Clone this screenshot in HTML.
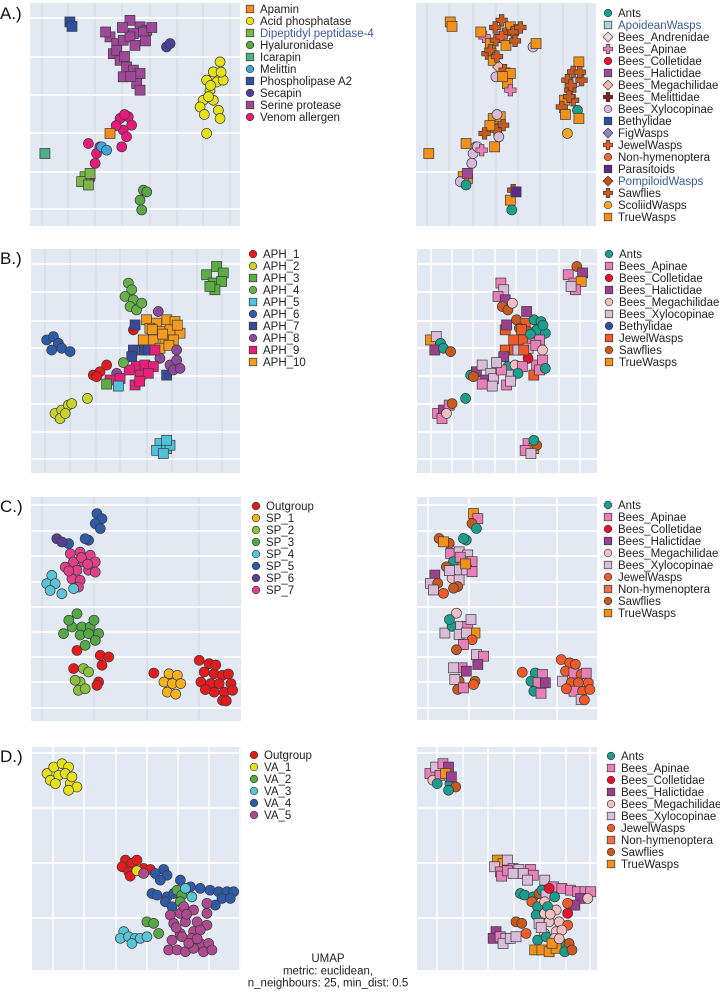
<!DOCTYPE html>
<html><head><meta charset="utf-8"><style>
html,body{margin:0;padding:0;background:#fff;}
svg text{font-family:"Liberation Sans",sans-serif;}
</style></head><body>
<svg id="fig" xmlns="http://www.w3.org/2000/svg" width="720" height="992" viewBox="0 0 720 992"></svg>
<script>
// ---------- Row A data: [x, y(top-down), leftCat, rightCat] in 0-100 units ----------
const pointsA = [
[19,8.5,6,17],[20,10.5,6,17],
[47.6,7.8,8,15],[52.4,10.7,8,17],[55.6,12.2,8,15],[49.2,13.7,8,15],[38.1,15.2,8,3],[41.3,18.2,8,17],[44.4,16.7,8,15],[39.7,22.7,8,15],[42.9,25.7,8,17],[46,28.7,8,6],[49.2,30.1,8,15],[52.4,31.6,8,17],[44.4,33.1,8,8],[50.8,36.1,8,17],[52.4,39.1,8,3],[54,13,8,15],[41.3,21.2,8,15],[47.6,15.2,8,11],
[44,11,8,15],[50,19,8,17],[45,24,8,15],[48,33,8,17],[55,17,8,15],[58,11,8,15],[36,13,8,17],
[65,19.7,7,8],[66.7,18.2,7,17],
[90.5,26.4,1,17],[87.3,30.9,1,15],[84.1,34.6,1,15],[88.9,35.4,1,8],[92,34.6,1,15],[85.7,39.1,1,15],[82.5,43.6,1,17],[81,46.6,1,15],[87.3,43.6,1,15],[89.7,48.1,1,0],[90.5,51.8,1,17],[84.1,58.5,1,16],
[86,37,1,15],[83,50,1,17],[91,31,1,15],[85,42,1,15],
[42.9,51.8,9,17],[46.8,51,9,17],[48.4,54.8,9,15],[44.4,57,9,15],[46,60,9,8],[43.7,64.5,9,17],[33.3,64.5,9,8],[27.8,63,9,17],[31.7,67.5,9,8],[31,71.9,9,8],[28.6,78.7,9,17],
[41,55,9,17],[45,50,9,8],
[38.1,58.5,0,15],[34.1,64.5,5,8],[36.5,66,5,3],
[7.1,67.5,4,17],
[26.2,77.9,2,17],[24.6,80.1,2,8],[27.8,81.6,2,0],[28.6,76.4,2,5],
[54,83.9,3,15],[52.4,88.4,3,17],[53.2,92.8,3,0],[55.6,84.7,3,13]
];
const leftCatsA = ["Apamin","Acid phosphatase","Dipeptidyl peptidase-4","Hyaluronidase","Icarapin","Melittin","Phospholipase A2","Secapin","Serine protease","Venom allergen"];
const leftColA = ["#f28c1e","#e6e21a","#7ab648","#5aa845","#4caf8a","#3ba7d8","#2e4fa0","#4b3f9a","#a0479a","#e8197a"];
const leftShpA = ["s","c","s","c","s","c","s","c","s","c"];
const rightCatsA = ["Ants","ApoideanWasps","Bees_Andrenidae","Bees_Apinae","Bees_Colletidae","Bees_Halictidae","Bees_Megachilidae","Bees_Melittidae","Bees_Xylocopinae","Bethylidae","FigWasps","JewelWasps","Non-hymenoptera","Parasitoids","PompiloidWasps","Sawflies","ScoliidWasps","TrueWasps"];
const rightColA = ["#1a9e8f","#a8d5d5","#f0dada","#e87fb8","#e8102a","#a0479a","#f2b8b0","#8b1a1a","#d8b8dc","#2b4fa0","#8e86c4","#f05a28","#e8683c","#5b2a86","#c4501a","#c85a1e","#f5a623","#f39019"];
const rightShpA = ["c","s","d","x","c","s","d","x","c","s","d","x","c","s","d","x","c","s"];

// ---------- Row B ----------
const pointsB = [
[84,11.5,2,1],[88.8,7.8,2,8],[92,10.7,2,3],[87.2,15.2,2,1],[91.2,14.5,2,9],[88,18.2,2,1],[85.6,16.7,2,5],
[46.6,15.2,3,1],[48.2,18.2,3,5],[45,21.2,3,1],[49,22.7,3,3],[47.4,25.7,3,8],[50.5,27.2,3,8],[53,24.2,3,4],
[7.5,40.6,5,9],[10.7,39.1,5,5],[13.1,42.1,5,0],[9.9,45.1,5,3],[14.7,44.3,5,0],[18.7,45.8,5,8],
[55.3,31.6,9,8],[60.1,33.1,9,7],[65,31.6,9,0],[68.9,32.4,9,0],[61.7,36.9,9,8],[66.5,36.1,9,0],[71.3,37.6,9,0],[58.5,40.6,9,7],[64.1,40.6,9,1],[68.1,40.6,9,1],[61.7,44.3,9,5],[56.9,35.4,9,8],[53.7,40.6,9,7],
[58,36,9,7],[63,38,9,0],[66,43,9,1],[70,34,9,0],
[49,36.1,0,7],[29.8,56.3,0,0],[33,54.8,0,3],[36.2,51.8,0,5],[31.4,57,0,8],
[49,45.1,6,7],[54.2,45.1,6,7],[56.1,45.1,6,5],[48.2,48.1,6,3],[49.8,33.9,6,3],[64.9,56.3,6,7],
[60.9,27.9,7,3],[66.5,51.8,7,1],[69.7,49.6,7,1],[68.1,54,7,1],[71.3,53.3,7,0],[69.7,45.1,7,4],[61.7,48.8,7,2],[41,55.5,7,5],
[50.5,52.5,8,0],[54.5,51.8,8,4],[58.5,52.5,8,1],[52.2,56.3,8,5],[56.1,55.5,8,0],[49.8,60.7,8,1],[37.8,58.5,8,3],[42.6,57.8,8,5],[59.3,45.1,8,7],
[47,54,8,1],[52,59,8,5],
[41.8,61.2,4,5],[61.7,86.9,4,1],[64.9,89.1,4,9],[66.5,87.6,4,8],[60.1,89.9,4,1],[63.3,91.3,4,5],[64.9,85.4,4,0],
[11.5,73.4,1,1],[14.7,71.9,1,3],[17.9,69.7,1,1],[19.5,69,1,8],[13.9,75.7,1,1],[16.4,73.4,1,4],[27,66.7,1,0],
[44.2,50.7,3,5],[36.2,60.3,2,1]
];
const leftCatsB = ["APH_1","APH_2","APH_3","APH_4","APH_5","APH_6","APH_7","APH_8","APH_9","APH_10"];
const leftColB = ["#e41a1c","#c8d42a","#5aad42","#66b04a","#4fc3dc","#2f5aa8","#3a4a9a","#8e4a9a","#e8207a","#f39c1c"];
const leftShpB = ["c","c","s","c","s","c","s","c","s","s"];
const rightCatsB = ["Ants","Bees_Apinae","Bees_Colletidae","Bees_Halictidae","Bees_Megachilidae","Bees_Xylocopinae","Bethylidae","JewelWasps","Sawflies","TrueWasps"];
const rightColB = ["#1a9e8f","#e87fb8","#e8102a","#9b3f8f","#f2c0c0","#d8bcd8","#2b4fa0","#f05a28","#c85a1e","#f39019"];
const rightShpB = ["c","s","c","s","c","s","c","s","c","s"];

// ---------- Row C ----------
const pointsC = [
[31.4,7.4,5,9],[33.8,9.7,5,1],[30.6,11.9,5,8],[33,14.1,5,0],[27.4,19.3,5,0],[17.9,20.8,5,8],[25.8,18.6,5,0],
[12.3,18.6,6,8],[14.7,20.1,6,9],
[18.7,25.3,7,1],[23.4,24.6,7,5],[28.2,26,7,5],[30.6,29,7,1],[25,29,7,9],[20.2,29,7,0],[16.3,31.3,7,8],[21.9,32.7,7,5],[27.4,32.7,7,5],[30.6,33.5,7,1],[19.5,36.5,7,4],[23.4,37.2,7,5],[22.6,40.2,7,8],
[24,27,7,1],[18,33,7,5],[27,30,7,9],
[9.9,35,4,3],[7.5,38.7,4,5],[11.5,38.7,4,8],[9.1,41.7,4,5],[14.7,43.2,4,6],[20.3,40.9,4,8],
[21.9,52.1,3,4],[15.5,61,3,5],[19.5,58,3,0],[24.2,58,3,5],[28.2,58,3,1],[32.2,61,3,9],[23.4,61.6,3,5],[27.4,61,3,5],[30.6,64,3,6],[25.8,66.2,3,1],
[18,55,3,0],[30,55,3,5],
[25,76.6,2,1],[27.4,78.1,2,3],[23.4,82.6,2,8],[21,81.8,2,5],[22.6,86.3,2,8],[25.8,85.6,2,1],
[21.9,68.5,0,8],[33,70.7,0,5],[37,71.4,0,1],[33.8,75.1,0,3],[20.3,76.6,0,5],[32.2,82.6,0,8],[31.4,84.1,0,6],
[80.1,72.9,0,6],[84.8,74.4,0,6],[82.5,78.1,0,6],[87.2,78.9,0,1],[91.2,79.6,0,6],[80.9,82.6,0,5],[85.6,83.3,0,6],[89.6,83.3,0,6],[95.2,83.3,0,6],[87.2,87.1,0,1],[92,87.1,0,6],[96,86.3,0,6],[91.2,90.8,0,5],[58.5,78.6,0,6],
[88,75,0,6],[94,79,0,1],[83,86,0,6],[93,91,0,6],
[65.7,78.9,1,0],[69.7,79.6,1,1],[63.3,82.6,1,0],[67.3,83.3,1,1],[71.3,83.3,1,3],[64.9,87.1,1,0],[68.9,88,1,1]
];
const leftCatsC = ["Outgroup","SP_1","SP_2","SP_3","SP_4","SP_5","SP_6","SP_7"];
const leftColC = ["#e41a1c","#f5b21a","#8cc040","#55a844","#5bc4d8","#2f5aa8","#5b3f8f","#e0408a"];
const rightCatsC = ["Ants","Bees_Apinae","Bees_Colletidae","Bees_Halictidae","Bees_Megachilidae","Bees_Xylocopinae","JewelWasps","Non-hymenoptera","Sawflies","TrueWasps"];
const rightColC = ["#1a9e8f","#e87fb8","#e8102a","#9b3f8f","#f2c0c0","#d8bcd8","#f05a28","#e8704a","#c85a1e","#f39019"];
const rightShpC = ["c","s","c","s","c","s","c","s","c","s"];

// ---------- Row D ----------
const pointsD = [
[7.2,11.9,1,1],[10.4,9,1,5],[14.4,7.5,1,1],[17.5,9,1,3],[8.8,14.9,1,4],[12.8,12.7,1,1],[15.9,11.9,1,9],[11.2,16.4,1,0],[18.3,16.4,1,0],[21.5,17.9,1,8],[17.5,19.4,1,0],[19.1,13.4,1,3],
[44.7,50.7,0,9],[47.8,52.2,0,9],[50.2,50.7,0,5],[43.1,53.7,0,5],[46.3,56,0,1],[53.4,54.5,0,1],[56.6,54.9,0,5],[47,57.9,0,1],
[50.2,55.5,1,1],[53.4,56.7,5,5],
[63,54.9,4,1],[64.6,57.5,4,1],[59,56.7,4,5],[61.4,59.7,4,5],[71,59.7,4,5],[57.4,65.7,4,0],[59.8,66.4,4,0],[64.6,67.2,4,0],[63.8,69.4,4,6],[67.8,65.7,4,8],[75.8,62.7,4,1],[80.5,63.4,4,1],[85.2,64.2,4,1],[89.3,64.9,4,1],[93.3,64.9,4,1],[96.5,64.9,4,1],[90.9,67.9,4,3],[94.9,67.9,4,4],[87.7,70.9,4,3],[67,71.6,4,0],
[69.4,64.2,2,0],[71.7,66.4,2,5],[70.9,69.4,2,4],[55,78.4,2,8],[58.2,79.1,2,8],[60.6,83.6,2,6],
[73.4,63.4,3,2],[76.5,67.2,3,0],[43.9,82.8,3,3],[42.3,85.8,3,3],[46.2,85.1,3,1],[49.4,85.8,3,5],[47.8,88.1,3,5],[51.8,85.8,3,5],[55,85.1,3,5],
[66.2,75.4,5,0],[70.9,74.6,5,4],[77.3,73.1,5,4],[83.7,74.6,5,2],[67.8,79.1,5,5],[73.4,78.4,5,4],[79,78.4,5,4],[83.7,79.9,5,6],[70.9,83.6,5,4],[77.3,82.8,5,4],[80.5,82.1,5,4],[67,86.6,5,0],[71.8,85.1,5,0],[76.5,85.8,5,4],[80.5,88.1,5,0],[84.5,88.1,5,8],[65.4,91,5,9],[69.4,91,5,9],[73.4,91.8,5,9],[77.3,90.3,5,9],[82.1,91.8,5,0],[86.1,91,5,8],[83.7,70.1,5,6],[72.6,71.6,5,0],
[74,75,5,4],[69,81,5,5],[75,88,5,9],[79,86,5,4]
];
const leftCatsD = ["Outgroup","VA_1","VA_2","VA_3","VA_4","VA_5"];
const leftColD = ["#e41a1c","#e6e21a","#55a844","#5bc4d8","#2f5aa8","#b04a90"];

// ---------- drawing ----------
const NS = "http://www.w3.org/2000/svg";
const svg = document.getElementById("fig");
function el(tag, attrs, parent){
  const e = document.createElementNS(NS, tag);
  for (const k in attrs) e.setAttribute(k, attrs[k]);
  (parent||svg).appendChild(e);
  return e;
}
function marker(g, shape, cx, cy, r, fill, name){
  let m;
  if (shape === "s") m = el("rect",{x:cx-r,y:cy-r,width:2*r,height:2*r,fill:fill,stroke:"#3a3a3a","stroke-width":0.7},g);
  else if (shape === "d") m = el("polygon",{points:`${cx},${cy-r*1.25} ${cx+r*1.25},${cy} ${cx},${cy+r*1.25} ${cx-r*1.25},${cy}`,fill:fill,stroke:"#3a3a3a","stroke-width":0.7},g);
  else if (shape === "x"){ const a=r*0.45,b=r*1.15;
    m = el("polygon",{points:`${cx-a},${cy-b} ${cx+a},${cy-b} ${cx+a},${cy-a} ${cx+b},${cy-a} ${cx+b},${cy+a} ${cx+a},${cy+a} ${cx+a},${cy+b} ${cx-a},${cy+b} ${cx-a},${cy+a} ${cx-b},${cy+a} ${cx-b},${cy-a} ${cx-a},${cy-a}`,fill:fill,stroke:"#3a3a3a","stroke-width":0.7},g);}
  else m = el("circle",{cx:cx,cy:cy,r:r,fill:fill,stroke:"#3a3a3a","stroke-width":0.7},g);
  
  
  return m;
}
function panel(name, box, hLines, vLines, vStyle, pts, which, cols, shps, r){
  const g = el("g",{});
  
  
  const bg = el("rect",{x:box.x,y:box.y,width:box.w,height:box.h,fill:"#e3e9f3"},g);
  
  
  vLines.forEach(x=>el("line",{x1:x,x2:x,y1:box.y,y2:box.y+box.h,stroke:vStyle==="w"?"#ffffff":"#d2d6de","stroke-width":vStyle==="w"?1.4:1},g));
  hLines.forEach(y=>el("line",{x1:box.x,x2:box.x+box.w,y1:y,y2:y,stroke:"#ffffff","stroke-width":1.4},g));
  const xs = v => box.x + v/100*box.w;
  const ys = v => box.y + v/100*box.h;
  pts.forEach(p=>{
    const c = p[which];
    marker(g, shps[c], xs(p[0]), ys(p[1]), r, cols[c], name + '-point');
  });
}
function legend(name, x, y0, cats, cols, shps, blue){
  const g = el("g",{});
  
  
  cats.forEach((c,i)=>{
    const y = y0 + i*12;
    marker(g, shps[i], x, y, shps[i]==="x"||shps[i]==="d"?4:3.8, cols[i], 'legend-marker');
    const t = el("text",{x:x+10,y:y+4,"font-size":11.5,fill:(blue&&blue.includes(c))?"#3b5a9c":"#222"},g);
    t.textContent = c;
    
    
  });
}
function label(txt, y){
  const t = el("text",{x:0,y:y,"font-size":17,fill:"#111"});
  t.textContent = txt;
  
  
}
const circ = n => Array(n).fill("c");
const R = 5;

// Row A
const AL={x:30,y:3,w:210,h:223}, AR={x:416,y:3,w:180,h:223};
panel("panel-a-venom-families", AL, [18,57,95,133,172,209], [42,68,95,122,150,177,203,230], "g", pointsA, 2, leftColA, leftShpA, R);
panel("panel-a-taxonomy", AR, [172], [427,449,473,496,518,540,563,587], "g", pointsA, 3, rightColA, rightShpA, R);
legend("legend-a-left", 250, 9, leftCatsA, leftColA, leftShpA, ["Dipeptidyl peptidase-4"]);
legend("legend-a-right", 608, 13, rightCatsA, rightColA, rightShpA, ["ApoideanWasps","PompiloidWasps"]);
label("A.)", 19);

// Row B
const BL={x:31,y:249,w:209,h:224}, BR={x:417,y:249,w:180,h:224};
const hB=[264,292,321,348,376,404,432,459];
panel("panel-b-aph", BL, hB, [45,70,96,120,147,172,197,222], "g", pointsB, 2, leftColB, leftShpB, R);
panel("panel-b-taxonomy", BR, hB, [431,452,473,495,516,537,559,580], "w", pointsB, 3, rightColB, rightShpB, R);
legend("legend-b-left", 253, 254, leftCatsB, leftColB, leftShpB);
legend("legend-b-right", 609, 254, rightCatsB, rightColB, rightShpB);
label("B.)", 264);

// Row C
const CL={x:31,y:497,w:210,h:224}, CR={x:417,y:497,w:180,h:223};
const hC=[505,531,556,582,607,632,657,682,708];
panel("panel-c-sp", CL, hC, [42,94,147,199], "g", pointsC, 2, leftColC, circ(8), R);
panel("panel-c-taxonomy", CR, hC, [428,469,514,557], "w", pointsC, 3, rightColC, rightShpC, R);
legend("legend-c-left", 256, 506, leftCatsC, leftColC, circ(8));
legend("legend-c-right", 608, 505, rightCatsC, rightColC, rightShpC);
label("C.)", 512);

// Row D
const DL={x:32,y:747,w:209,h:223}, DR={x:417,y:747,w:180,h:223};
const hD=[753,808,863,918];
panel("panel-d-va", DL, hD, [53,84,116,147,178,209,240], "w", pointsD, 2, leftColD, circ(6), R);
panel("panel-d-taxonomy", DR, hD, [437,463,488,514,540,566,590], "w", pointsD, 3, rightColC, rightShpC, R);
legend("legend-d-left", 254, 755, leftCatsD, leftColD, circ(6));
legend("legend-d-right", 611, 756, rightCatsC, rightColC, rightShpC);
label("D.)", 762);

// caption
["UMAP","metric: euclidean,","n_neighbours: 25, min_dist: 0.5"].forEach((s,i)=>{
  const t = el("text",{x:328,y:962+i*12.3,"font-size":11.5,"text-anchor":"middle",fill:"#222"});
  t.textContent = s;
  
  
});
</script>
</body></html>
